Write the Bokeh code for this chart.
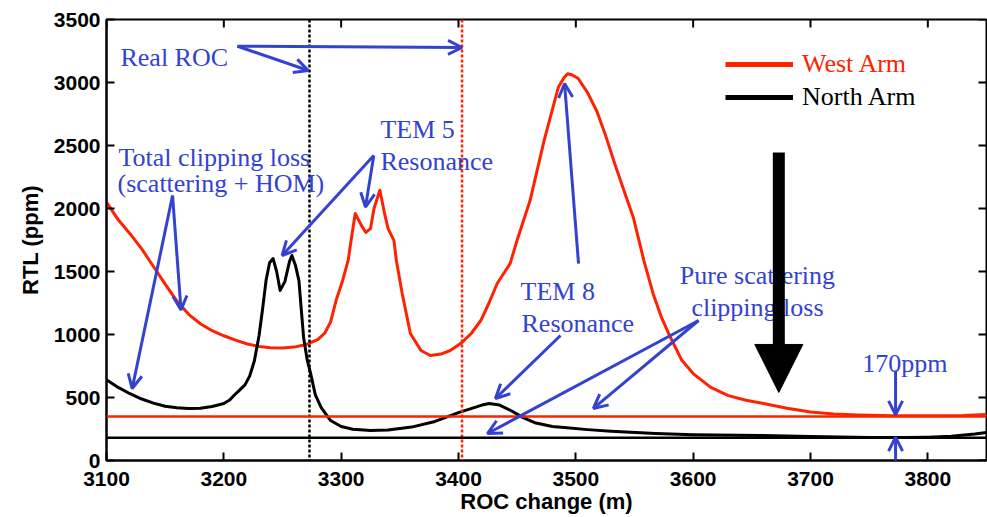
from bokeh.plotting import figure
from bokeh.models import (Span, Arrow, OpenHead, NormalHead, Label, Legend,
                          LegendItem, FixedTicker)
from bokeh.embed import file_html
from bokeh.resources import INLINE

# ---------------- data ----------------
roc_west = [3100, 3110, 3120, 3130, 3140, 3150, 3160, 3170, 3180, 3190, 3200,
            3210, 3220, 3230, 3240, 3250, 3260, 3270, 3280, 3286, 3291, 3296,
            3301, 3306, 3309, 3312, 3317, 3321, 3325, 3328, 3333, 3337, 3340,
            3345, 3347, 3352, 3359, 3368, 3376, 3385, 3393, 3403, 3411, 3419,
            3426, 3433, 3444, 3450, 3461, 3473, 3485, 3490, 3493, 3497, 3502,
            3510, 3518, 3525, 3533, 3541, 3549, 3558, 3566, 3573, 3580, 3590,
            3600, 3615, 3630, 3645, 3660, 3680, 3700, 3720, 3740, 3770, 3800,
            3830, 3850]
rtl_west = [2050, 1910, 1800, 1680, 1540, 1400, 1265, 1160, 1085, 1030, 990,
            955, 925, 905, 895, 893, 900, 920, 960, 1010, 1100, 1280,
            1420, 1590, 1780, 1960, 1870, 1810, 1840, 2000, 2145, 1960, 1840,
            1745, 1590, 1325, 1008, 873, 833, 845, 873, 937, 1010, 1111,
            1250, 1405, 1563, 1750, 2063, 2540, 2960, 3040, 3070, 3060, 3032,
            2920, 2770, 2590, 2360, 2143, 1929, 1587, 1320, 1135, 990, 800,
            690, 580, 515, 478, 452, 415, 385, 370, 362, 356, 355,
            357, 365]

roc_north = [3100, 3110, 3120, 3130, 3140, 3150, 3160, 3170, 3180, 3190, 3200,
             3205, 3209, 3213, 3218, 3222, 3226, 3230, 3233, 3236, 3239, 3242,
             3245, 3248, 3252, 3256, 3258, 3261, 3264, 3266, 3268, 3271, 3274,
             3278, 3283, 3291, 3300, 3310, 3325, 3340, 3360, 3380, 3400, 3410,
             3420, 3426, 3435, 3445, 3455, 3465, 3480, 3490, 3510, 3530, 3568,
             3600, 3658, 3700, 3750, 3780, 3800, 3820, 3840, 3850]
rtl_north = [640, 580, 530, 488, 455, 430, 418, 413, 415, 428, 452,
             480, 520, 555, 600, 670, 790, 990, 1200, 1430, 1570, 1603,
             1500, 1350, 1420, 1580, 1627, 1550, 1428, 1200, 976, 800, 690,
             520, 420, 317, 270, 248, 238, 242, 265, 310, 380, 410,
             440, 452, 440, 395, 340, 300, 270, 262, 245, 232, 214,
             205, 198, 190, 183, 182, 185, 192, 210, 222]

real_roc_north = 3273
real_roc_west = 3403
scatter_only_west = 350
scatter_only_north = 180

x_ticks = [3100, 3200, 3300, 3400, 3500, 3600, 3700, 3800]
y_ticks = [0, 500, 1000, 1500, 2000, 2500, 3000, 3500]
x_lo, x_hi = 3100, 3850
y_lo, y_hi = 0, 3500

# annotation texts: (text, x, y, align)
notes = [
    ("Real ROC", 3111.9, 3198, "left"),
    ("Total clipping loss", 3110.2, 2405, "left"),
    ("(scattering + HOM)", 3109.4, 2198, "left"),
    ("TEM 5", 3333.5, 2627, "left"),
    ("Resonance", 3333.5, 2373, "left"),
    ("TEM 8", 3452.9, 1341, "left"),
    ("Resonance", 3453.7, 1087, "left"),
    ("Pure scattering", 3654.8, 1468, "center"),
    ("clipping loss", 3654.8, 1214, "center"),
    ("170ppm", 3744, 770, "left"),
]
# annotation arrows: (x_start, y_start, x_end, y_end)
pointers = [
    (3211.6, 3288, 3272, 3095),
    (3211.6, 3288, 3403, 3278),
    (3156.3, 2103, 3121.9, 571),
    (3156.3, 2103, 3163.5, 1195),
    (3327.8, 2421, 3249.7, 1627),
    (3327.8, 2421, 3320.7, 2011),
    (3486.9, 992, 3431.5, 492),
    (3604.6, 1111, 3424.7, 214),
    (3604.6, 1111, 3515, 413),
    (3502.3, 1563, 3490.4, 2992),
    (3772.5, 714, 3772.5, 362),
    (3772.5, -172, 3772.5, 185),
]
big_arrow = (3673, 2444, 3673, 540)

RED = "#ff2200"
BLUE = "#3342cf"
SERIF = "Liberation Serif"
SANS = "Liberation Sans"

# ---------------- figure ----------------
FRAME_W, FRAME_H = 880, 441
p = figure(width=987, height=517, x_range=(x_lo, x_hi), y_range=(y_lo, y_hi),
           output_backend="svg", toolbar_location=None,
           min_border_left=106, min_border_right=1, min_border_top=19,
           min_border_bottom=57)
p.xgrid.visible = False
p.ygrid.visible = False
p.outline_line_color = "black"
p.outline_line_width = 2
p.background_fill_color = "white"
p.border_fill_color = "white"


def style_axis(ax, ticks):
    ax.ticker = FixedTicker(ticks=ticks)
    ax.axis_line_width = 2
    ax.axis_line_color = "black"
    ax.major_tick_line_width = 2
    ax.major_tick_in = 8
    ax.major_tick_out = 0
    ax.minor_tick_line_color = None
    ax.major_label_text_font = SANS
    ax.major_label_text_font_style = "bold"
    ax.major_label_text_font_size = "21px"
    ax.major_label_text_color = "black"
    ax.axis_label_text_font = SANS
    ax.axis_label_text_font_style = "bold"
    ax.axis_label_text_font_size = "22px"
    ax.axis_label_text_color = "black"


xa = p.xaxis[0]
ya = p.yaxis[0]
style_axis(xa, x_ticks)
style_axis(ya, y_ticks)
xa.axis_label = "ROC change (m)"
ya.axis_label = "RTL (ppm)"
xa.major_label_standoff = 11
ya.major_label_standoff = 6
xa.axis_label_standoff = 0
ya.axis_label_standoff = 8

# mirrored inward ticks on the top and right edges (8 px long)
tick_dx = 8 * (x_hi - x_lo) / FRAME_W
tick_dy = 8 * (y_hi - y_lo) / FRAME_H
p.segment(x0=x_ticks, x1=x_ticks, y0=[y_hi] * len(x_ticks),
          y1=[y_hi - tick_dy] * len(x_ticks), line_color="black", line_width=2)
p.segment(x0=[x_hi] * len(y_ticks), x1=[x_hi - tick_dx] * len(y_ticks),
          y0=y_ticks, y1=y_ticks, line_color="black", line_width=2)

# reference lines
for loc, col in [(real_roc_north, "black"), (real_roc_west, RED)]:
    p.add_layout(Span(location=loc, dimension="height", line_color=col,
                      line_width=2.5, line_dash="3 2"))
for loc, col in [(scatter_only_west, RED), (scatter_only_north, "black")]:
    p.add_layout(Span(location=loc, dimension="width", line_color=col,
                      line_width=2.5))

# curves
p.line(roc_west, rtl_west, line_color=RED, line_width=3, line_join="round")
p.line(roc_north, rtl_north, line_color="black", line_width=3, line_join="round")

# legend glyph proxies (thicker lines, nothing drawn in the plot)
nan = float("nan")
lw = p.line(x=[nan], y=[nan], line_color=RED, line_width=5)
ln = p.line(x=[nan], y=[nan], line_color="black", line_width=5)
for rend, lab, col, loc in [(lw, "West Arm", RED, (619, 381)),
                            (ln, "North Arm", "black", (619, 348))]:
    lg = Legend(items=[LegendItem(label=lab, renderers=[rend])], location=loc,
                glyph_width=68, glyph_height=28, label_standoff=9, padding=0,
                margin=0, spacing=0, border_line_alpha=0,
                background_fill_alpha=0, label_text_font=SERIF,
                label_text_font_size="26px", label_text_color=col,
                label_height=28)
    p.add_layout(lg)

# annotation texts
for txt, x, y, al in notes:
    p.add_layout(Label(x=x, y=y, text=txt, text_font=SERIF,
                       text_font_size="26px", text_color=BLUE,
                       text_align=al, text_baseline="alphabetic"))

# annotation arrows
for x0, y0, x1, y1 in pointers:
    p.add_layout(Arrow(x_start=x0, y_start=y0, x_end=x1, y_end=y1,
                       line_color=BLUE, line_width=3,
                       end=OpenHead(size=14, line_color=BLUE, line_width=3)))

bx0, by0, bx1, by1 = big_arrow
p.add_layout(Arrow(x_start=bx0, y_start=by0, x_end=bx1, y_end=by1,
                   line_color="black", line_width=12,
                   end=NormalHead(size=48, fill_color="black",
                                  line_color="black", line_width=1)))

# slide number partly visible at the bottom
p.add_layout(Label(x=3706, y=-341, text="18", text_font=SANS,
                   text_font_size="36px", text_color="black",
                   text_baseline="top"))

open("out.html", "w").write(file_html(p, INLINE))
